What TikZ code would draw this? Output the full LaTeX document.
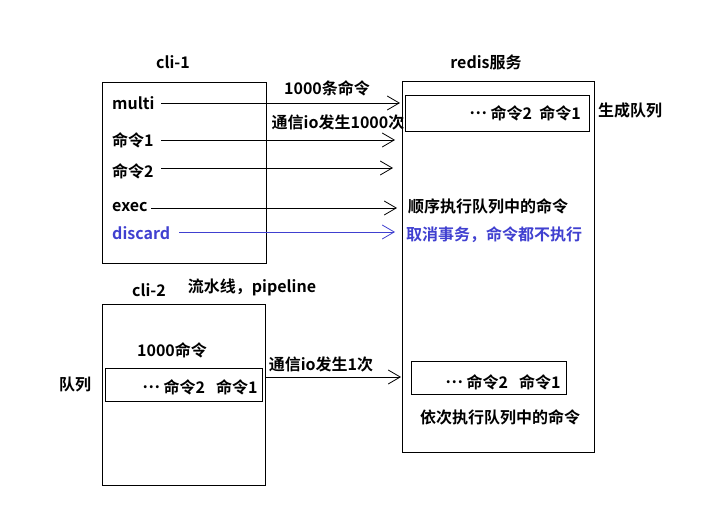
\documentclass[tikz,border=0pt]{standalone}
\usepackage{fontspec}
\setmainfont{Noto Sans CJK SC}[BoldFont=* Bold]
\usetikzlibrary{arrows.meta}
\definecolor{myblue}{RGB}{64,64,208}
\newcommand{\mydots}{\raisebox{4.5pt}{…}}
\begin{document}
\begin{tikzpicture}[x=1pt,y=-1pt,
  txt/.style={font=\fontsize{16}{19}\selectfont\bfseries, inner sep=0pt},
  box/.style={draw, line width=1pt, inner sep=0pt, anchor=north west},
  arr/.style={line width=0.8pt, -{Straight Barb[length=12pt,width=14pt,line width=0.8pt]}},
  blu/.style={color=myblue}]
\fill[white] (0,0) rectangle (710,510);
\useasboundingbox (0,0) rectangle (710,510);
% boxes
\node[box, minimum width=164pt, minimum height=181pt] (cli1) at (102,82) {};
\node[box, minimum width=192pt, minimum height=371pt] (redis) at (402,81) {};
\node[box, minimum width=184pt, minimum height=36pt] (q1) at (405,95) {};
\node[box, minimum width=163pt, minimum height=181pt] (cli2) at (102,304) {};
\node[box, minimum width=157pt, minimum height=33pt] (q2) at (105,368) {};
\node[box, minimum width=155pt, minimum height=33pt] (q3) at (411,361) {};
% titles
\node[txt] (t1) at (173,62) {cli-1};
\node[txt] (t2) at (486,62) {redis服务};
\node[txt] (t3) at (149,290) {cli-2};
\node[txt] (t4) at (252,287) {流水线，pipeline};
% cli-1 commands
\node[txt, anchor=west] (multi) at (112,103) {multi};
\node[txt, anchor=west] (c1) at (112,140) {命令1};
\node[txt, anchor=west] (c2) at (112,171) {命令2};
\node[txt, anchor=west] (exec) at (112,207) {exec};
\node[txt, anchor=west, blu] (disc) at (112,233) {discard};
\coordinate (e1) at (400,103);
\coordinate (e2) at (395,140);
\coordinate (e3) at (393,168);
\coordinate (e4) at (397,208);
\coordinate (e5) at (395,232);
\draw[arr] (161,103) coordinate (s1) -- (e1);
\draw[arr] (161,140) coordinate (s2) -- (e2);
\draw[arr] (161,168) coordinate (s3) -- (e3);
\draw[arr] (151,208) coordinate (s4) -- (e4);
\draw[arr, myblue] (179,232) coordinate (s5) -- (e5);
\node[txt] (l1) at (327,88) {1000条命令};
\node[txt] (l2) at (338,122) {通信io发生1000次};
% redis texts
\node[txt, anchor=east] (q1t) at (581,113) {\mydots\ 命令2\ \ 命令1};
\node[txt] (gen) at (630,110) {生成队列};
\node[txt, anchor=west] (seq) at (408,206) {顺序执行队列中的命令};
\node[txt, anchor=west, blu] (cancel) at (406,235) {取消事务，命令都不执行};
% cli-2
\node[txt] (n1000) at (172,350) {1000命令};
\node[txt] (q2t) at (200,387) {\mydots\ 命令2\ \ \ 命令1};
\node[txt] (qlab) at (75,385) {队列};
\node[txt] (l3) at (321,364) {通信io发生1次};
\coordinate (e6) at (401,377);
\draw[arr] (cli2.east |- e6) -- (e6);
\node[txt] (q3t) at (503,382) {\mydots\ 命令2\ \ \ 命令1};
\node[txt] (last) at (500,417) {依次执行队列中的命令};
\end{tikzpicture}
\end{document}
